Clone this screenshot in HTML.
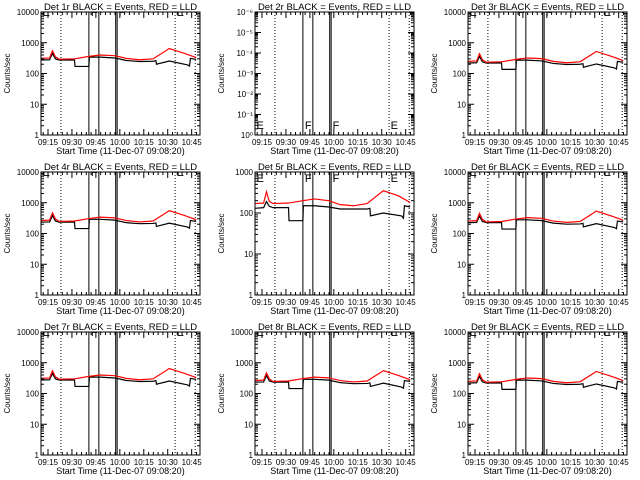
<!DOCTYPE html>
<html><head><meta charset="utf-8"><style>
html,body{margin:0;padding:0;background:#fff;}
svg{display:block;font-family:"Liberation Sans",sans-serif;}
</style></head><body>
<svg id="chart" width="640" height="480" xmlns="http://www.w3.org/2000/svg">
<rect width="640" height="480" fill="#fff"/>
</svg>
<script>
// ---- data (minutes after start, axis scale) ----
const panelTitles = ["Det 1r","Det 2r","Det 3r","Det 4r","Det 5r","Det 6r","Det 7r","Det 8r","Det 9r"];
const xTickLabels = ["09:15","09:30","09:45","10:00","10:15","10:30","10:45"];
const xTickMinutes = [7.3,32.3,57.3,82.3,107.3,132.3,157.3];
const redT = [0,9,12,15,19,35,50,62,77,89,103,117,134,150,162];
const redV = [310,320,550,350,290,300,360,400,380,310,280,300,650,450,330];
const blackT = [0,9,12,15,19,35,35.5,50,50.5,62,77,89,103,117,120,120.5,134,153,155,156,162];
const blackV = [275,280,450,300,275,275,170,170,340,340,320,265,245,250,260,200,255,190,175,310,290];
const panelGain = [1,0,0.8,0.85,0,0.82,1,0.85,0.8];
const red5V = [170,175,330,190,170,175,200,220,200,160,150,170,350,260,180];
const black5V = [130,135,190,145,135,135,65,65,150,150,140,125,125,125,130,85,100,85,75,150,140];
const dottedT = [20.8,140,161];
const solidT = [50,60.4,78,79.5];
const eventLabels = ["E","F","F","E"];
const eventLabelT = [0.5,51,80,140.5];

const svg = document.getElementById('chart');
const NS = "http://www.w3.org/2000/svg";
function mk(tag, attrs, parent){const e=document.createElementNS(NS,tag);for(const k in attrs)e.setAttribute(k,attrs[k]);(parent||svg).appendChild(e);return e;}

const colX=[41,255,468], rowY=[12,172,332], W=159, H=123, TMAX=166;

for(let p=0;p<9;p++){
  const x0=colX[p%3], y0=rowY[Math.floor(p/3)];
  const g=mk('g',{});
  
  
  let lo=0,hi=4,labels=["1","10","100","1000","10000"];
  if(p===4){hi=3;labels=["1","10","100","1000"];}
  if(p===1){hi=6;labels=["10\u2070","10\u207B\u00B9","10\u207B\u00B2","10\u207B\u00B3","10\u207B\u2074","10\u207B\u2075","10\u207B\u2076"];}
  const xs=t=>x0+t/TMAX*W;
  const ys=v=>y0+H-(Math.log10(v)-lo)/(hi-lo)*H;
  const clipId='c'+p;
  const cp=mk('clipPath',{id:clipId},g);mk('rect',{x:x0,y:y0,width:W,height:H},cp);
  const inner=mk('g',{'clip-path':'url(#'+clipId+')'},g);
  dottedT.forEach(t=>{const l=mk('line',{x1:xs(t),x2:xs(t),y1:y0,y2:y0+H,stroke:'#000','stroke-width':1,'stroke-dasharray':'1,2'},inner);
    });
  solidT.forEach(t=>{const l=mk('line',{x1:xs(t),x2:xs(t),y1:y0,y2:y0+H,stroke:'#000','stroke-width':1},inner);
    });
  eventLabels.forEach((s,i)=>{
    let ly = p===1 ? y0+H-6 : (p===4 ? y0+10 : y0+4);
    const t=mk('text',{x:xs(eventLabelT[i])+1,y:ly,'font-size':11,fill:'#000'},inner);t.textContent=s;
    
  });
  if(p!==1){
    const rv = p===4?red5V:redV.map(v=>v*panelGain[p]);
    const bv = p===4?black5V:blackV.map(v=>v*panelGain[p]);
    const bl=mk('polyline',{points:blackT.map((t,i)=>xs(t)+','+ys(bv[i])).join(' '),fill:'none',stroke:'#000','stroke-width':1.2},inner);
    
    const rl=mk('polyline',{points:redT.map((t,i)=>xs(t)+','+ys(rv[i])).join(' '),fill:'none',stroke:'#f00','stroke-width':1.2},inner);
    
  }
  const fr=mk('rect',{x:x0,y:y0,width:W,height:H,fill:'none',stroke:'#000','stroke-width':1},g);
  
  for(let d=lo;d<=hi;d++){
    const yy=y0+H-(d-lo)/(hi-lo)*H;
    mk('line',{x1:x0,x2:x0+6,y1:yy,y2:yy,stroke:'#000'},g);
    mk('line',{x1:x0+W-6,x2:x0+W,y1:yy,y2:yy,stroke:'#000'},g);
    const tl=mk('text',{x:x0-2,y:yy+3,'font-size':8,'text-anchor':'end',fill:'#000'},g);
    tl.textContent=labels[d-lo];
    
    if(d<hi)for(let m=2;m<10;m++){const ym=yy-Math.log10(m)/(hi-lo)*H;
      mk('line',{x1:x0,x2:x0+3,y1:ym,y2:ym,stroke:'#000'},g);
      mk('line',{x1:x0+W-3,x2:x0+W,y1:ym,y2:ym,stroke:'#000'},g);}
  }
  xTickMinutes.forEach((tm,i)=>{
    const xx=xs(tm);
    mk('line',{x1:xx,x2:xx,y1:y0+H,y2:y0+H-6,stroke:'#000'},g);
    mk('line',{x1:xx,x2:xx,y1:y0,y2:y0+6,stroke:'#000'},g);
    for(let k=1;k<5;k++){const xm=xs(tm+k*5); if(xm<x0+W){
      mk('line',{x1:xm,x2:xm,y1:y0+H,y2:y0+H-3,stroke:'#000'},g);
      mk('line',{x1:xm,x2:xm,y1:y0,y2:y0+3,stroke:'#000'},g);}}
    if(i===0){const xm=xs(tm-5);mk('line',{x1:xm,x2:xm,y1:y0+H,y2:y0+H-3,stroke:'#000'},g);mk('line',{x1:xm,x2:xm,y1:y0,y2:y0+3,stroke:'#000'},g);}
    const tl=mk('text',{x:xx,y:y0+H+10,'font-size':8,'text-anchor':'middle',fill:'#000'},g);
    tl.textContent=xTickLabels[i];
  });
  const tt=mk('text',{x:x0+W/2,y:y0-2,'font-size':9.5,'text-anchor':'middle',fill:'#000'},g);
  tt.textContent=panelTitles[p]+" BLACK = Events, RED = LLD";
  
  const xt=mk('text',{x:x0+W/2,y:y0+H+19,'font-size':9,'text-anchor':'middle',fill:'#000'},g);
  xt.textContent="Start Time (11-Dec-07 09:08:20)";
  
  const yt=mk('text',{x:0,y:0,'font-size':8,'text-anchor':'middle',fill:'#000',transform:'translate('+(x0-31)+','+(y0+H/2)+') rotate(-90)'},g);
  yt.textContent="Counts/sec";
  
}
</script>
</body></html>
